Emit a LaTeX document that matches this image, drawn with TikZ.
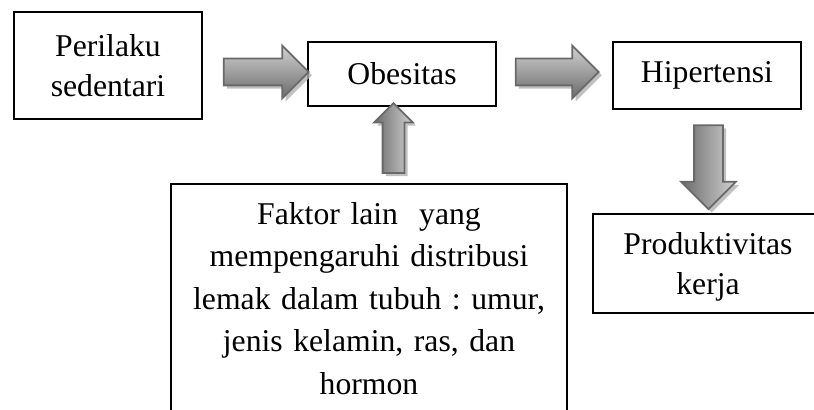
\documentclass[tikz,border=0pt]{standalone}
\usepackage{fontspec}
\setmainfont{Liberation Serif}
\usetikzlibrary{positioning, calc, shapes.arrows, shadows}
\definecolor{arrowline}{RGB}{105,105,105}
\frenchspacing

\begin{document}
\begin{tikzpicture}[x=0.5pt, y=-0.5pt,
	box/.style={draw, line width=1pt, align=center, inner sep=0pt,
		font=\fontsize{15.85}{20}\selectfont},
	fatarrow/.style={single arrow, draw=arrowline, line width=0.9pt,
		drop shadow={shadow xshift=1.6pt, shadow yshift=-1.6pt, fill=black!30, opacity=0.8}},
	sidearrow/.style={fatarrow, top color=black!18, bottom color=black!58},
	uparrow/.style={fatarrow, left color=black!58, right color=black!18}]
		\useasboundingbox (0,0) rectangle (814,410);
		\clip (0,0) rectangle (814,410);

		\node[box, minimum width=94pt, minimum height=53.5pt] (perilaku) at (108,65.5) {Perilaku\\sedentari};
		\node[box, minimum width=94pt, minimum height=32pt] (obesitas) at (402,74) {Obesitas};
		\node[box, minimum width=94pt, minimum height=33.5pt] (hipertensi) at (707,75.5) {Hipertensi};
		\node[box, anchor=north, text width=198pt, inner ysep=9.15pt, text depth=100pt,
			font=\fontsize{15.85}{21.25}\selectfont] (faktor) at (369,183)
			{Faktor lain~ yang\\mempengaruhi distribusi\\lemak dalam tubuh : umur,\\jenis kelamin, ras, dan\\hormon};
		\node[box, minimum width=115pt, minimum height=49.5pt, text depth=0pt] (produktivitas) at (708,263.5) {Produktivitas\\kerja};

		\node[sidearrow, inner sep=6.25pt, minimum height=42.5pt, single arrow head extend=6.5pt,
			xshift=2.25pt, yshift=1pt] (panah1) at ($(perilaku.east |- obesitas)!0.5!(obesitas.west)$) {};
		\node[sidearrow, inner sep=6.25pt, minimum height=41.5pt, single arrow head extend=6.5pt,
			xshift=-2pt, yshift=1pt] (panah2) at ($(obesitas.east)!0.5!(hipertensi.west |- obesitas)$) {};
		\node[uparrow, shape border rotate=90, inner sep=5pt, minimum height=35pt, single arrow head extend=4.25pt,
			xshift=-4.25pt, yshift=0.75pt] (panah3) at ($(obesitas.south)!0.5!(obesitas.south |- faktor.north)$) {};
		\node[uparrow, shape border rotate=270, inner sep=6.75pt, minimum height=42pt, single arrow head extend=6.5pt,
			xshift=0.75pt, yshift=0.75pt] (panah4) at ($(hipertensi.south)!0.5!(hipertensi.south |- produktivitas.north)$) {};
	\end{tikzpicture}
\end{document}
